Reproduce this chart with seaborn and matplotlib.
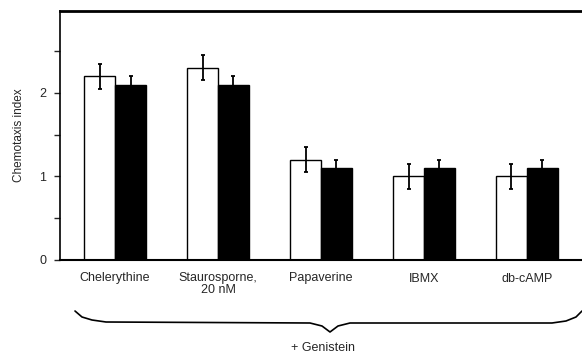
import numpy as np
import pandas as pd
import matplotlib
matplotlib.use("Agg")
import matplotlib.pyplot as plt
import seaborn as sns
from matplotlib.lines import Line2D

categories = ["Chelerythine", "Staurosporne,\n20 nM", "Papaverine", "IBMX", "db-cAMP"]
white_vals = [2.2, 2.3, 1.2, 1.0, 1.0]
white_err = [0.15, 0.15, 0.15, 0.15, 0.15]
black_vals = [2.1, 2.1, 1.1, 1.1, 1.1]
black_err = [0.1, 0.1, 0.1, 0.1, 0.1]
series = ["control", "treated"]

sns.set_style("white")
plt.rcParams["font.family"] = ["Liberation Sans", "DejaVu Sans"]

df = pd.DataFrame({
    "drug": categories * 2,
    "value": white_vals + black_vals,
    "err": white_err + black_err,
    "cond": [series[0]] * 5 + [series[1]] * 5,
})

fig = plt.figure(figsize=(5.82, 3.58), dpi=100)
ax = fig.add_axes([60 / 582, 1 - 260 / 358, 1 - 60 / 582, (260 - 11) / 358])

sns.barplot(data=df, x="drug", y="value", hue="cond", order=categories,
            hue_order=series, palette=["white", "black"], edgecolor="black",
            linewidth=1.0, errorbar=None, width=0.6, gap=0, legend=False, ax=ax)

for cont, errs, vals in zip(ax.containers, [white_err, black_err], [white_vals, black_vals]):
    xs = [p.get_x() + p.get_width() / 2 for p in cont.patches]
    ax.errorbar(xs, vals, yerr=errs, fmt="none", ecolor="black", elinewidth=1.3,
                capsize=1.6, capthick=1.3, zorder=5)

ax.set_xlim(-0.535, 4.535)
ax.set_ylim(0, 2.98)
ax.set_yticks([0, 0.5, 1, 1.5, 2, 2.5])
ax.set_yticklabels(["0", "", "1", "", "2", ""], fontsize=9)
ax.tick_params(axis="y", direction="out", length=4, width=1, pad=6, left=True)
ax.tick_params(axis="x", length=0, pad=9, labelsize=9)
for lbl in ax.get_xticklabels():
    lbl.set_linespacing(0.95)
ax.set_xlabel("")
ax.set_ylabel("Chemotaxis index", fontsize=8.5, labelpad=10)

ax.spines["right"].set_visible(False)
ax.spines["top"].set_linewidth(2.0)
ax.spines["bottom"].set_linewidth(1.5)
ax.spines["left"].set_linewidth(1.2)
for s in ["top", "bottom", "left"]:
    ax.spines[s].set_color("black")

# brace below the categories
W, H = 582, 358
pts = [(75, 311), (82, 317), (92, 320), (106, 322), (310, 323), (322, 326),
       (330, 332), (338, 326), (350, 323), (552, 323), (566, 321), (576, 317), (582, 311)]
bx = [p[0] / W for p in pts]
by = [1 - p[1] / H for p in pts]
fig.add_artist(Line2D(bx, by, transform=fig.transFigure, color="black", lw=1.2))
fig.text(323 / W, 1 - 348 / H, "+ Genistein", ha="center", va="center", fontsize=9)

fig.savefig("out.png", dpi=100)
